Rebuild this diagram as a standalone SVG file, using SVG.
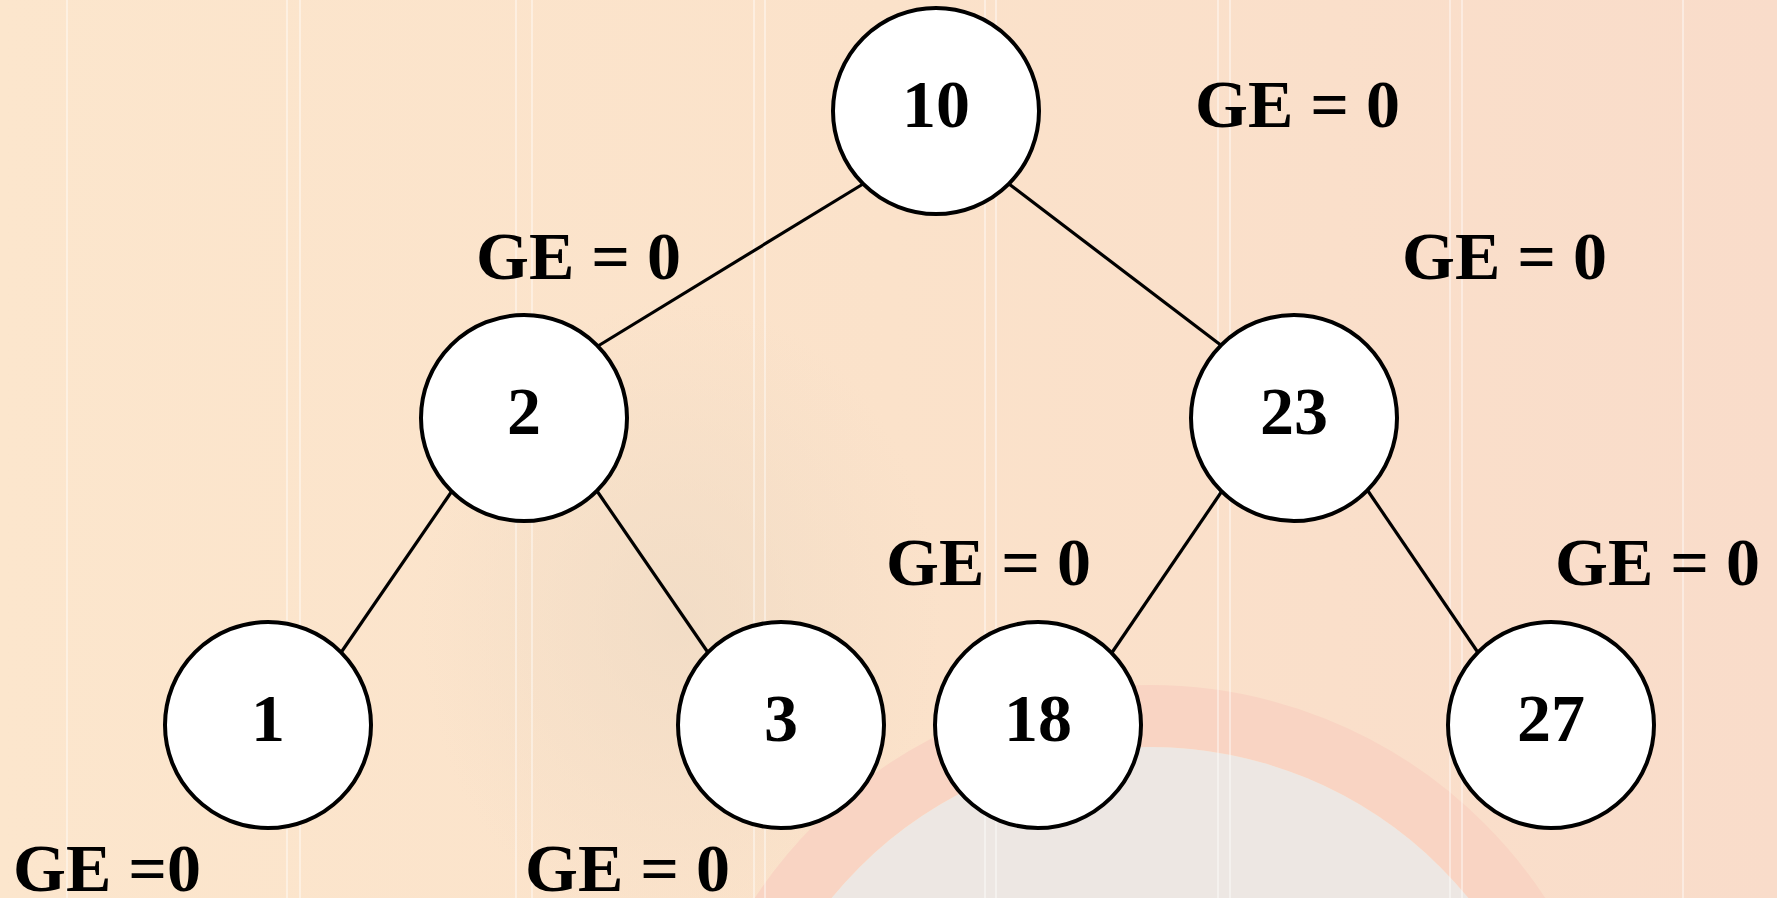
<svg xmlns="http://www.w3.org/2000/svg" width="1777" height="898" viewBox="0 0 1777 898">
<defs>
<linearGradient id="bg" x1="0" y1="0" x2="1" y2="0">
<stop offset="0" stop-color="#FCE6CD"/>
<stop offset="0.5" stop-color="#FBE2CA"/>
<stop offset="1" stop-color="#F9DCCA"/>
</linearGradient>
<radialGradient id="tan" cx="0.5" cy="0.5" r="0.5">
<stop offset="0" stop-color="#EEDAC4" stop-opacity="0.7"/>
<stop offset="1" stop-color="#EEDAC4" stop-opacity="0"/>
</radialGradient>
<style>
.node circle{fill:#FFFFFF;stroke:#000000;stroke-width:4}
.node text{font-family:"Liberation Serif","Times New Roman",serif;font-weight:bold;font-size:68px;fill:#000;text-anchor:middle}
.lbl{font-family:"Liberation Serif","Times New Roman",serif;font-weight:bold;font-size:68px;fill:#000}
.edge{stroke:#000;stroke-width:3.2;fill:none}
.vl{stroke:#FFFFFF;stroke-opacity:0.55;stroke-width:1.5}
</style>
</defs>
<g id="background">
<rect x="0" y="0" width="1777" height="898" fill="url(#bg)"/>
<ellipse cx="680" cy="620" rx="260" ry="320" fill="url(#tan)"/>
<circle cx="1150" cy="1158" r="442" fill="none" stroke="#F9D4C3" stroke-width="62"/>
<circle cx="1150" cy="1158" r="411" fill="#EDE7E3"/>
<g class="vl">
<line x1="67" y1="0" x2="67" y2="898"/>
<line x1="287" y1="0" x2="287" y2="898"/>
<line x1="300" y1="0" x2="300" y2="898"/>
<line x1="516" y1="0" x2="516" y2="898"/>
<line x1="532" y1="0" x2="532" y2="898"/>
<line x1="754" y1="0" x2="754" y2="898"/>
<line x1="765" y1="0" x2="765" y2="898"/>
<line x1="985" y1="0" x2="985" y2="898"/>
<line x1="996" y1="0" x2="996" y2="898"/>
<line x1="1218" y1="0" x2="1218" y2="898"/>
<line x1="1230" y1="0" x2="1230" y2="898"/>
<line x1="1450" y1="0" x2="1450" y2="898"/>
<line x1="1462" y1="0" x2="1462" y2="898"/>
<line x1="1683" y1="0" x2="1683" y2="898"/>
</g>
</g>
<g id="connectors">
<line class="edge" x1="863" y1="184" x2="598" y2="346"/>
<line class="edge" x1="1009" y1="184" x2="1222" y2="346"/>
<line class="edge" x1="452" y1="491" x2="340" y2="654"/>
<line class="edge" x1="597" y1="491" x2="709" y2="654"/>
<line class="edge" x1="1222" y1="491" x2="1111" y2="654"/>
<line class="edge" x1="1368" y1="491" x2="1479" y2="654"/>
</g>
<g id="node-10" class="node"><circle cx="936" cy="111" r="103"/><text x="936" y="127">10</text></g>
<g id="node-2" class="node"><circle cx="524" cy="418" r="103"/><text x="524" y="434">2</text></g>
<g id="node-23" class="node"><circle cx="1294" cy="418" r="103"/><text x="1294" y="434">23</text></g>
<g id="node-1" class="node"><circle cx="268" cy="725" r="103"/><text x="268" y="741">1</text></g>
<g id="node-3" class="node"><circle cx="781" cy="725" r="103"/><text x="781" y="741">3</text></g>
<g id="node-18" class="node"><circle cx="1038" cy="725" r="103"/><text x="1038" y="741">18</text></g>
<g id="node-27" class="node"><circle cx="1551" cy="725" r="103"/><text x="1551" y="741">27</text></g>
<g id="labels">
<text class="lbl" x="1195" y="127">GE = 0</text>
<text class="lbl" x="476" y="279">GE = 0</text>
<text class="lbl" x="1402" y="279">GE = 0</text>
<text class="lbl" x="886" y="585">GE = 0</text>
<text class="lbl" x="1555" y="585">GE = 0</text>
<text class="lbl" x="13" y="891">GE =0</text>
<text class="lbl" x="525" y="891">GE = 0</text>
</g>
</svg>
